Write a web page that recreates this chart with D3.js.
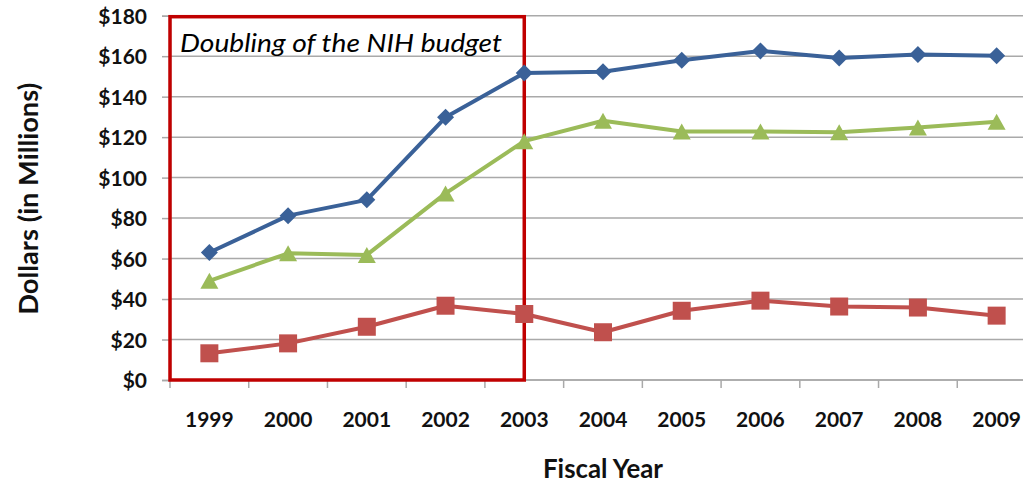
<!DOCTYPE html>
<html>
<head>
<meta charset="utf-8">
<script src="https://cdn.jsdelivr.net/npm/d3@7"></script>
<style>
  html, body { margin: 0; padding: 0; background: #fff; }
  svg { display: block; }
  text { font-family: Lato, "Open Sans", sans-serif; }
</style>
</head>
<body>
<svg id="chart" width="1023" height="485"></svg>
<script>
// Fiscal years and NIH funding series (millions of dollars)
const years = ["1999","2000","2001","2002","2003","2004","2005","2006","2007","2008","2009"];
const seriesBlue  = [63, 81.2, 89, 129.8, 151.7, 152.3, 158, 162.6, 159.1, 160.8, 160.2];
const seriesGreen = [49, 62.6, 61.8, 92.2, 118, 128.1, 122.8, 122.8, 122.4, 124.7, 127.6];
const seriesRed   = [13.2, 18.1, 26.3, 36.7, 32.6, 23.6, 34.2, 39.2, 36.3, 35.8, 31.8];
const yTicks = [0, 20, 40, 60, 80, 100, 120, 140, 160, 180];
const highlightYears = ["1999", "2003"];
const highlightLabel = "Doubling of the NIH budget";

const svg = d3.select("#chart");
const plot = { left: 170, right: 1036, top: 15.7, bottom: 380 };

const x = d3.scaleBand().domain(years).range([plot.left, plot.right]).padding(0);
const y = d3.scaleLinear().domain([0, 180]).range([plot.bottom, plot.top]);
const cx = d => x(d) + x.bandwidth() / 2;

// Horizontal gridlines
svg.append("g")
  .selectAll("line")
  .data(yTicks)
  .join("line")
  .attr("x1", plot.left).attr("x2", plot.right)
  .attr("y1", d => y(d)).attr("y2", d => y(d))
  .attr("stroke", "#a9a9a9").attr("stroke-width", 1.5);

// Y axis (ticks outside, dollar labels)
const yAxis = svg.append("g")
  .attr("transform", `translate(${plot.left},0)`)
  .call(d3.axisLeft(y).tickValues(yTicks).tickSize(8).tickPadding(15)
    .tickFormat(d => "$" + d));
yAxis.select(".domain").attr("stroke", "#a9a9a9").attr("stroke-width", 1.5);
yAxis.selectAll(".tick line").attr("stroke", "#a9a9a9").attr("stroke-width", 1.5);
yAxis.selectAll(".tick text")
  .attr("font-size", 21).attr("font-weight", "bold").attr("fill", "#111")
  .attr("dy", "0.36em");

// X axis: tick marks on category boundaries, labels centred on categories
const xAxis = svg.append("g")
  .attr("transform", `translate(0,${plot.bottom})`);
xAxis.append("line")
  .attr("x1", plot.left).attr("x2", plot.right)
  .attr("stroke", "#a9a9a9").attr("stroke-width", 1.5);
xAxis.selectAll("line.tk")
  .data(years)
  .join("line")
  .attr("class", "tk")
  .attr("x1", d => x(d)).attr("x2", d => x(d))
  .attr("y1", 0).attr("y2", 8)
  .attr("stroke", "#a9a9a9").attr("stroke-width", 1.5);
xAxis.selectAll("text")
  .data(years)
  .join("text")
  .attr("x", d => cx(d))
  .attr("y", 47)
  .attr("text-anchor", "middle")
  .attr("font-size", 21).attr("font-weight", "bold").attr("fill", "#111")
  .text(d => d);

// Axis titles
svg.append("text")
  .attr("x", (plot.left + plot.right) / 2)
  .attr("y", 478)
  .attr("text-anchor", "middle")
  .attr("font-size", 26).attr("font-weight", "bold").attr("fill", "#111")
  .attr("textLength", 120).attr("lengthAdjust", "spacingAndGlyphs")
  .text("Fiscal Year");

svg.append("text")
  .attr("transform", `translate(38,${(plot.top + plot.bottom) / 2 + 1}) rotate(-90)`)
  .attr("text-anchor", "middle")
  .attr("font-size", 26).attr("font-weight", "bold").attr("fill", "#111")
  .attr("textLength", 232).attr("lengthAdjust", "spacingAndGlyphs")
  .text("Dollars (in Millions)");

// Highlight box around the doubling period
const boxLeft = x(highlightYears[0]);
const boxRight = cx(highlightYears[1]);
svg.append("rect")
  .attr("x", boxLeft).attr("y", y(180) + 1)
  .attr("width", boxRight - boxLeft)
  .attr("height", y(0) - y(180) - 1)
  .attr("fill", "none")
  .attr("stroke", "#c00000").attr("stroke-width", 3.5);

svg.append("text")
  .attr("x", boxLeft + 10)
  .attr("y", 52)
  .attr("font-size", 26).attr("font-style", "italic").attr("fill", "#000")
  .attr("textLength", 322).attr("lengthAdjust", "spacingAndGlyphs")
  .text(highlightLabel);

// Series lines and markers
const line = d3.line().x((d, i) => cx(years[i])).y(d => y(d));

const series = [
  { values: seriesBlue,  color: "#3a6198", symbol: "diamond" },
  { values: seriesGreen, color: "#9bbb59", symbol: "triangle" },
  { values: seriesRed,   color: "#c0504d", symbol: "square" }
];

series.forEach(s => {
  svg.append("path")
    .datum(s.values)
    .attr("d", line)
    .attr("fill", "none")
    .attr("stroke", s.color)
    .attr("stroke-width", 4)
    .attr("stroke-linejoin", "round");

  const g = svg.append("g");
  g.selectAll("path")
    .data(s.values)
    .join("path")
    .attr("transform", (d, i) => `translate(${cx(years[i])},${y(d)})`)
    .attr("fill", s.color)
    .attr("d", () => {
      if (s.symbol === "diamond") {
        return "M0,-8.5L8.5,0L0,8.5L-8.5,0Z";
      } else if (s.symbol === "triangle") {
        return "M0,-8L9,8L-9,8Z";
      }
      return "M-9,-9H9V9H-9Z";
    });
});
</script>
</body>
</html>
